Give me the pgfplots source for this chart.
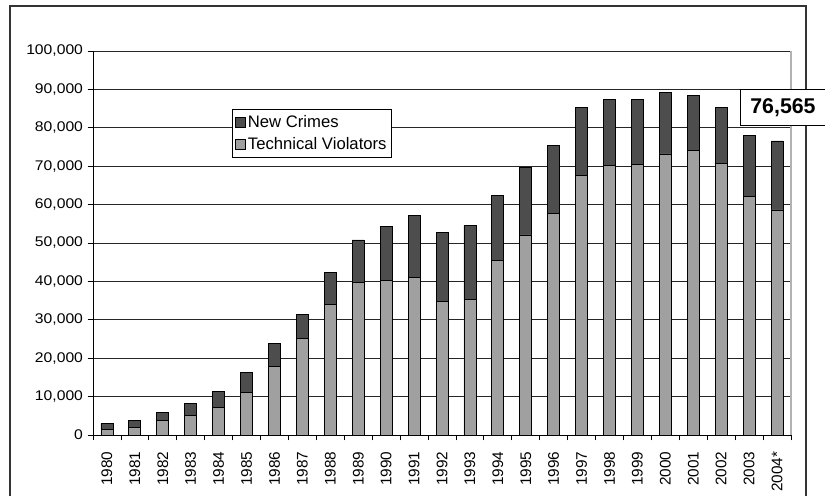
\documentclass[border=0pt]{standalone}
\usepackage{pgfplots}
\pgfplotsset{compat=1.18}
\usepackage{pgfplotstable}
\usepackage{fontspec}
\setmainfont{Liberation Sans}
\definecolor{darkbar}{HTML}{4D4D4D}
\definecolor{lightbar}{HTML}{A0A0A0}
\definecolor{framec}{HTML}{333333}
\newcommand{\yl}[1]{\scalebox{1.12}[1]{#1}}
\pgfplotstableread{
x tech newc
0 1500 1500
1 2000 1800
2 3800 2100
3 5100 3200
4 7100 4300
5 11000 5300
6 17900 6000
7 25100 6200
8 33900 8400
9 39800 11000
10 40200 14000
11 41100 16000
12 34700 18000
13 35200 19300
14 45400 16900
15 52100 17500
16 57800 17500
17 67700 17500
18 70100 17400
19 70400 17100
20 73200 15900
21 74000 14500
22 70800 14600
23 62100 15800
24 58600 17965
}\data
\begin{document}
\begin{tikzpicture}
\begin{axis}[
  scale only axis,
  width=523.5pt, height=288pt,
  xmin=-0.5, xmax=24.5,
  ymin=0, ymax=100000,
  ybar stacked,
  bar width=9pt,
  clip=false,
  axis lines*=left,
  axis line style={draw=black, line width=0.6pt},
  ymajorgrids,
  major grid style={draw=black!85, line width=0.6pt},
  scaled y ticks=false,
  ytick={0,10000,20000,30000,40000,50000,60000,70000,80000,90000,100000},
  yticklabels={\yl{0},\yl{10,000},\yl{20,000},\yl{30,000},\yl{40,000},\yl{50,000},\yl{60,000},\yl{70,000},\yl{80,000},\yl{90,000},\yl{100,000}},
  tick align=outside,
  major tick length=4pt,
  minor tick length=4pt,
  tick style={black, line width=0.6pt},
  xtick={0,...,24},
  major x tick style={draw=none},
  minor xtick={-0.5,0.5,...,24.5},
  xticklabels={1980,1981,1982,1983,1984,1985,1986,1987,1988,1989,1990,1991,1992,1993,1994,1995,1996,1997,1998,1999,2000,2001,2002,2003,2004*},
  xticklabel style={rotate=90, anchor=east, font=\fontsize{11.5}{13}\selectfont, xshift=-5pt},
  yticklabel style={font=\fontsize{10.5}{12}\selectfont},
  reverse legend,
  legend style={at={(0.199,0.849)}, anchor=north west, draw=black, line width=0.6pt,
    font=\fontsize{12.5}{15}\selectfont, inner xsep=2pt, inner ysep=2.5pt, row sep=2pt},
  legend cell align=left,
  legend image code/.code={\draw[#1, line width=0.5pt] (0pt,-3.6pt) rectangle (7.2pt,3.6pt);},
]
\addplot[fill=lightbar, draw=black, line width=0.6pt] table[x=x, y=tech] {\data};
\addlegendentry{Technical Violators}
\addplot[fill=darkbar, draw=black, line width=0.6pt] table[x=x, y=newc] {\data};
\addlegendentry{New Crimes}
\draw[black!30, line width=0.8pt] (rel axis cs:1,0) -- (rel axis cs:1,1);
\draw[framec, line width=1.3pt] (rel axis cs:-0.1189,-0.3) -- (rel axis cs:-0.1189,1.1172) -- (rel axis cs:1.0215,1.1172) -- (rel axis cs:1.0215,-0.3);
\coordinate (lab) at (rel axis cs:0.9885,0.8529);
\coordinate (bl) at (rel axis cs:-0.13324,-0.15885);
\coordinate (tr) at (rel axis cs:1.04871,1.13281);
\end{axis}
\node[draw=black, fill=white, line width=0.6pt, minimum width=64.5pt, minimum height=27.5pt, font=\fontsize{16}{18}\selectfont\bfseries] at (lab) {76,565};
\pgfresetboundingbox
\path[use as bounding box] (bl) rectangle (tr);
\end{tikzpicture}
\end{document}
